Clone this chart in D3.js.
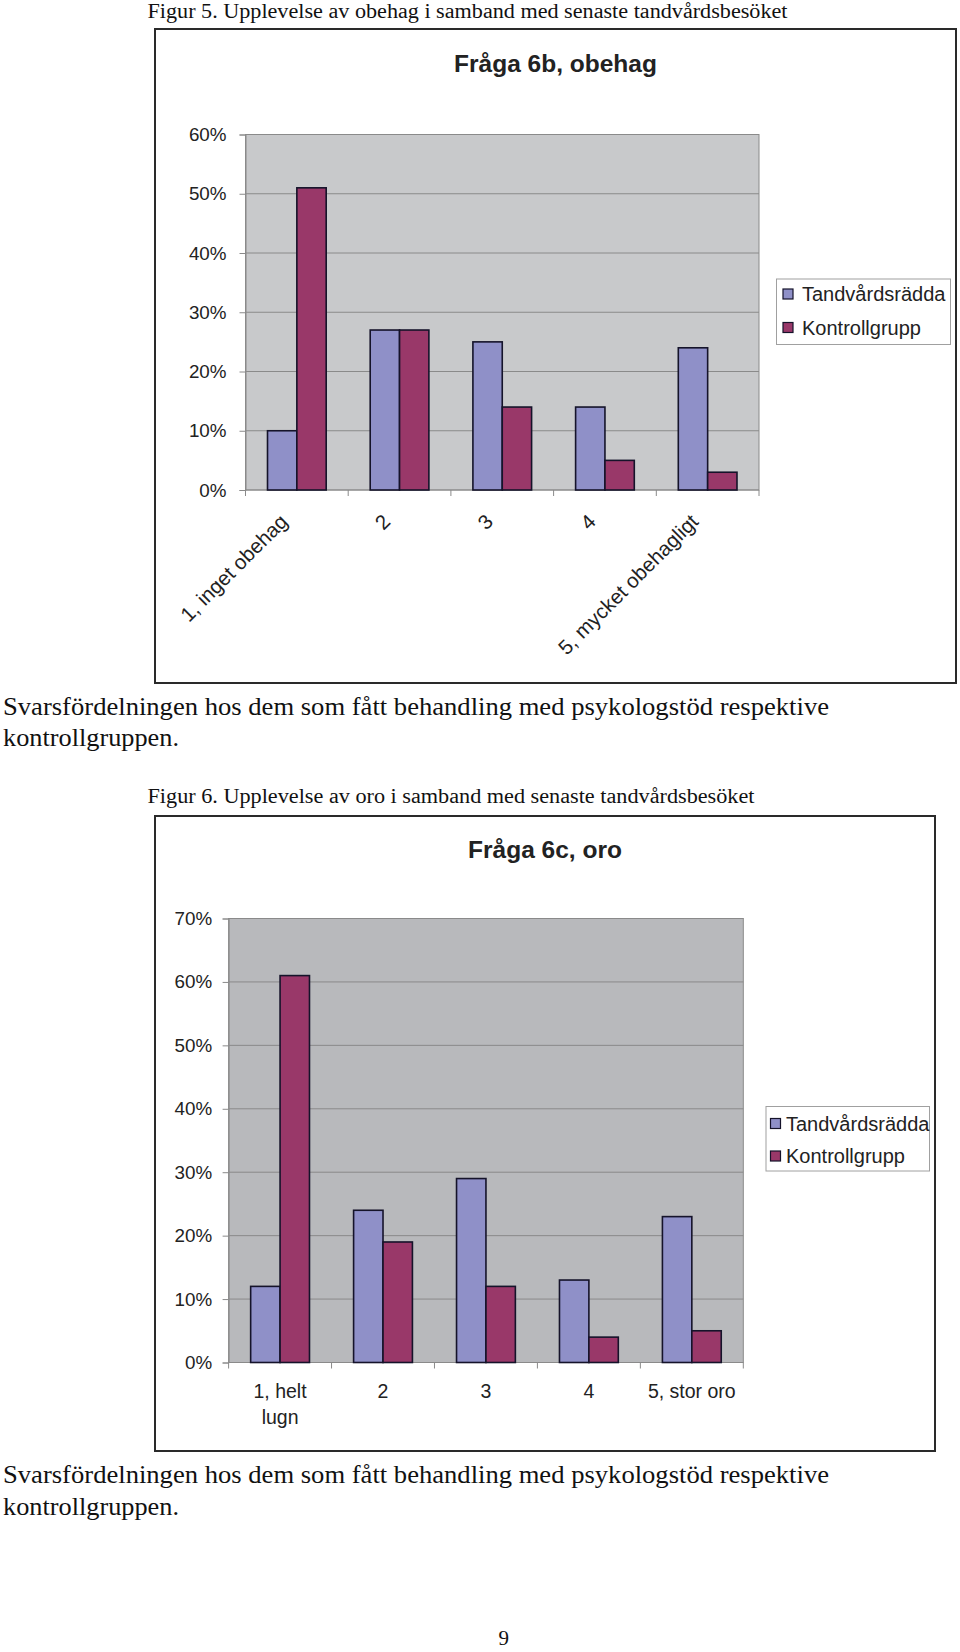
<!DOCTYPE html>
<html>
<head>
<meta charset="utf-8">
<script src="https://cdn.jsdelivr.net/npm/d3@7/dist/d3.min.js"></script>
<style>
  html, body { margin: 0; padding: 0; background: #fff; }
  svg { display: block; }
</style>
</head>
<body>
<svg id="page" width="960" height="1652"></svg>
<script>
// ---------------- DATA ----------------
const seriesNames = ["Tandvårdsrädda", "Kontrollgrupp"];

const categories6b = ["1, inget obehag", "2", "3", "4", "5, mycket obehagligt"];
const tandvard6b = [0.10, 0.27, 0.25, 0.14, 0.24];
const kontroll6b = [0.51, 0.27, 0.14, 0.05, 0.03];
const yTicks6b = [0, 0.1, 0.2, 0.3, 0.4, 0.5, 0.6];

const categories6c = [["1, helt", "lugn"], ["2"], ["3"], ["4"], ["5, stor oro"]];
const tandvard6c = [0.12, 0.24, 0.29, 0.13, 0.23];
const kontroll6c = [0.61, 0.19, 0.12, 0.04, 0.05];
const yTicks6c = [0, 0.1, 0.2, 0.3, 0.4, 0.5, 0.6, 0.7];

const title6b = "Fråga 6b, obehag";
const title6c = "Fråga 6c, oro";
const caption5 = "Figur 5. Upplevelse av obehag i samband med senaste tandvårdsbesöket";
const caption6 = "Figur 6. Upplevelse av oro i samband med senaste tandvårdsbesöket";
const noteLine1 = "Svarsfördelningen hos dem som fått behandling med psykologstöd respektive";
const noteLine2 = "kontrollgruppen.";
const pageNumber = "9";

// ---------------- STYLE ----------------
const colors = ["#8f90c8", "#993869"];
const sans = "'Liberation Sans', Arial, sans-serif";
const serif = "'Liberation Serif', 'Times New Roman', serif";

const svg = d3.select("#page");
svg.append("rect").attr("width", 960).attr("height", 1652).attr("fill", "#fff");

function serifText(txt, x, y, size, len) {
  const t = svg.append("text")
    .attr("x", x).attr("y", y)
    .attr("font-family", serif).attr("font-size", size)
    .attr("fill", "#111").text(txt);
  if (len) t.attr("textLength", len).attr("lengthAdjust", "spacingAndGlyphs");
  return t;
}

function drawChart(cfg) {
  const g = svg.append("g");
  // frame
  g.append("rect")
    .attr("x", cfg.frame[0]).attr("y", cfg.frame[1])
    .attr("width", cfg.frame[2] - cfg.frame[0]).attr("height", cfg.frame[3] - cfg.frame[1])
    .attr("fill", "#fff").attr("stroke", "#2a2a2a").attr("stroke-width", 2);

  // title
  g.append("text")
    .attr("x", (cfg.frame[0] + cfg.frame[2]) / 2).attr("y", cfg.titleY)
    .attr("text-anchor", "middle")
    .attr("font-family", sans).attr("font-weight", "bold").attr("font-size", 24.5)
    .attr("fill", "#222").text(cfg.title);

  const keys = cfg.categories.map((c, i) => i);
  const x = d3.scaleBand().domain(keys).range([cfg.plot.left, cfg.plot.right]).padding(0);
  const xs = d3.scaleBand().domain([0, 1]).range([0, x.bandwidth()]).paddingInner(0).paddingOuter(0.75);
  const y = d3.scaleLinear().domain([0, cfg.yMax]).range([cfg.plot.bottom, cfg.plot.top]);

  // plot background
  g.append("rect")
    .attr("x", cfg.plot.left).attr("y", cfg.plot.top)
    .attr("width", cfg.plot.right - cfg.plot.left).attr("height", cfg.plot.bottom - cfg.plot.top)
    .attr("fill", cfg.bg).attr("stroke", "#8a8a8a").attr("stroke-width", 1);

  // gridlines
  g.append("g").selectAll("line").data(cfg.yTicks.filter(d => d > 0)).join("line")
    .attr("x1", cfg.plot.left).attr("x2", cfg.plot.right)
    .attr("y1", d => y(d)).attr("y2", d => y(d))
    .attr("stroke", "#8a8a8a").attr("stroke-width", 1);

  // y axis
  const yAxis = d3.axisLeft(y).tickValues(cfg.yTicks).tickFormat(d3.format(".0%")).tickSize(6).tickPadding(cfg.yPad);
  const ya = g.append("g").attr("transform", `translate(${cfg.plot.left},0)`).call(yAxis);
  ya.select(".domain").attr("stroke", "#8a8a8a");
  ya.selectAll(".tick line").attr("stroke", "#8a8a8a");
  ya.selectAll(".tick text").attr("font-family", sans).attr("font-size", 18.8).attr("fill", "#222");

  // x axis baseline + ticks at category boundaries
  const xa = g.append("g");
  xa.append("line").attr("x1", cfg.plot.left).attr("x2", cfg.plot.right)
    .attr("y1", cfg.plot.bottom).attr("y2", cfg.plot.bottom).attr("stroke", "#8a8a8a");
  const bounds = keys.map(k => x(k)).concat([cfg.plot.right]);
  xa.selectAll("line.tk").data(bounds).join("line").attr("class", "tk")
    .attr("x1", d => d).attr("x2", d => d)
    .attr("y1", cfg.plot.bottom).attr("y2", cfg.plot.bottom + 6)
    .attr("stroke", "#8a8a8a");

  // bars
  const series = [cfg.s1, cfg.s2];
  series.forEach((vals, si) => {
    g.append("g").selectAll("rect").data(vals).join("rect")
      .attr("x", (d, i) => x(i) + xs(si))
      .attr("y", d => y(d))
      .attr("width", xs.bandwidth())
      .attr("height", d => y(0) - y(d))
      .attr("fill", colors[si])
      .attr("stroke", "#15132a").attr("stroke-width", 1.6);
  });

  // x labels
  if (cfg.rotate) {
    g.append("g").selectAll("text").data(cfg.categories).join("text")
      .attr("transform", (d, i) => `translate(${x(i) + x.bandwidth() / 2 - 8},${cfg.plot.bottom + 33}) rotate(-45)`)
      .attr("text-anchor", "end")
      .attr("font-family", sans).attr("font-size", 20.5).attr("fill", "#222")
      .text(d => d);
  } else {
    const lab = g.append("g").selectAll("text").data(cfg.categories).join("text")
      .attr("x", (d, i) => x(i) + x.bandwidth() / 2)
      .attr("y", cfg.plot.bottom + 35)
      .attr("text-anchor", "middle")
      .attr("font-family", sans).attr("font-size", 19.5).attr("fill", "#222");
    lab.selectAll("tspan").data(d => d).join("tspan")
      .attr("x", function () { return d3.select(this.parentNode).attr("x"); })
      .attr("dy", (d, i) => i === 0 ? 0 : 26)
      .text(d => d);
  }

  // legend
  const L = cfg.legend;
  const lg = g.append("g");
  lg.append("rect").attr("x", L.box[0]).attr("y", L.box[1])
    .attr("width", L.box[2] - L.box[0]).attr("height", L.box[3] - L.box[1])
    .attr("fill", "#fff").attr("stroke", "#a0a0a0").attr("stroke-width", 1);
  seriesNames.forEach((name, i) => {
    lg.append("rect").attr("x", L.sqX).attr("y", L.rows[i] - 5)
      .attr("width", 10).attr("height", 10)
      .attr("fill", colors[i]).attr("stroke", "#15132a").attr("stroke-width", 1.2);
    lg.append("text").attr("x", L.textX).attr("y", L.rows[i] + 7)
      .attr("font-family", sans).attr("font-size", 20).attr("fill", "#222")
      .text(name);
  });
}

// ---------------- PAGE ----------------
serifText(caption5, 147.5, 18, 20.5, 640);

drawChart({
  frame: [155, 29, 956, 683],
  title: title6b, titleY: 72,
  plot: { left: 245.5, right: 759, top: 134.5, bottom: 490 },
  yMax: 0.6, yTicks: yTicks6b, yPad: 13,
  categories: categories6b, s1: tandvard6b, s2: kontroll6b,
  bg: "#c8c9cb", rotate: true,
  legend: { box: [776.5, 279, 950.5, 344.5], sqX: 783, textX: 802, rows: [294, 327.5] }
});

serifText(noteLine1, 3, 715, 25.5, 826);
serifText(noteLine2, 3, 746, 25.5, 176);

serifText(caption6, 147.5, 803, 20.5, 607);

drawChart({
  frame: [155, 816, 935, 1451],
  title: title6c, titleY: 858,
  plot: { left: 228.6, right: 743.3, top: 918.5, bottom: 1362.5 },
  yMax: 0.7, yTicks: yTicks6c, yPad: 10.5,
  categories: categories6c, s1: tandvard6c, s2: kontroll6c,
  bg: "#b8b9bc", rotate: false,
  legend: { box: [766, 1106.5, 929.5, 1171], sqX: 770.5, textX: 786, rows: [1123.5, 1156] }
});

serifText(noteLine1, 3, 1483, 25.5, 826);
serifText(noteLine2, 3, 1515, 25.5, 176);

svg.append("text").attr("x", 503.7).attr("y", 1645).attr("text-anchor", "middle")
  .attr("font-family", serif).attr("font-size", 21).attr("fill", "#111").text(pageNumber);
</script>
</body>
</html>
